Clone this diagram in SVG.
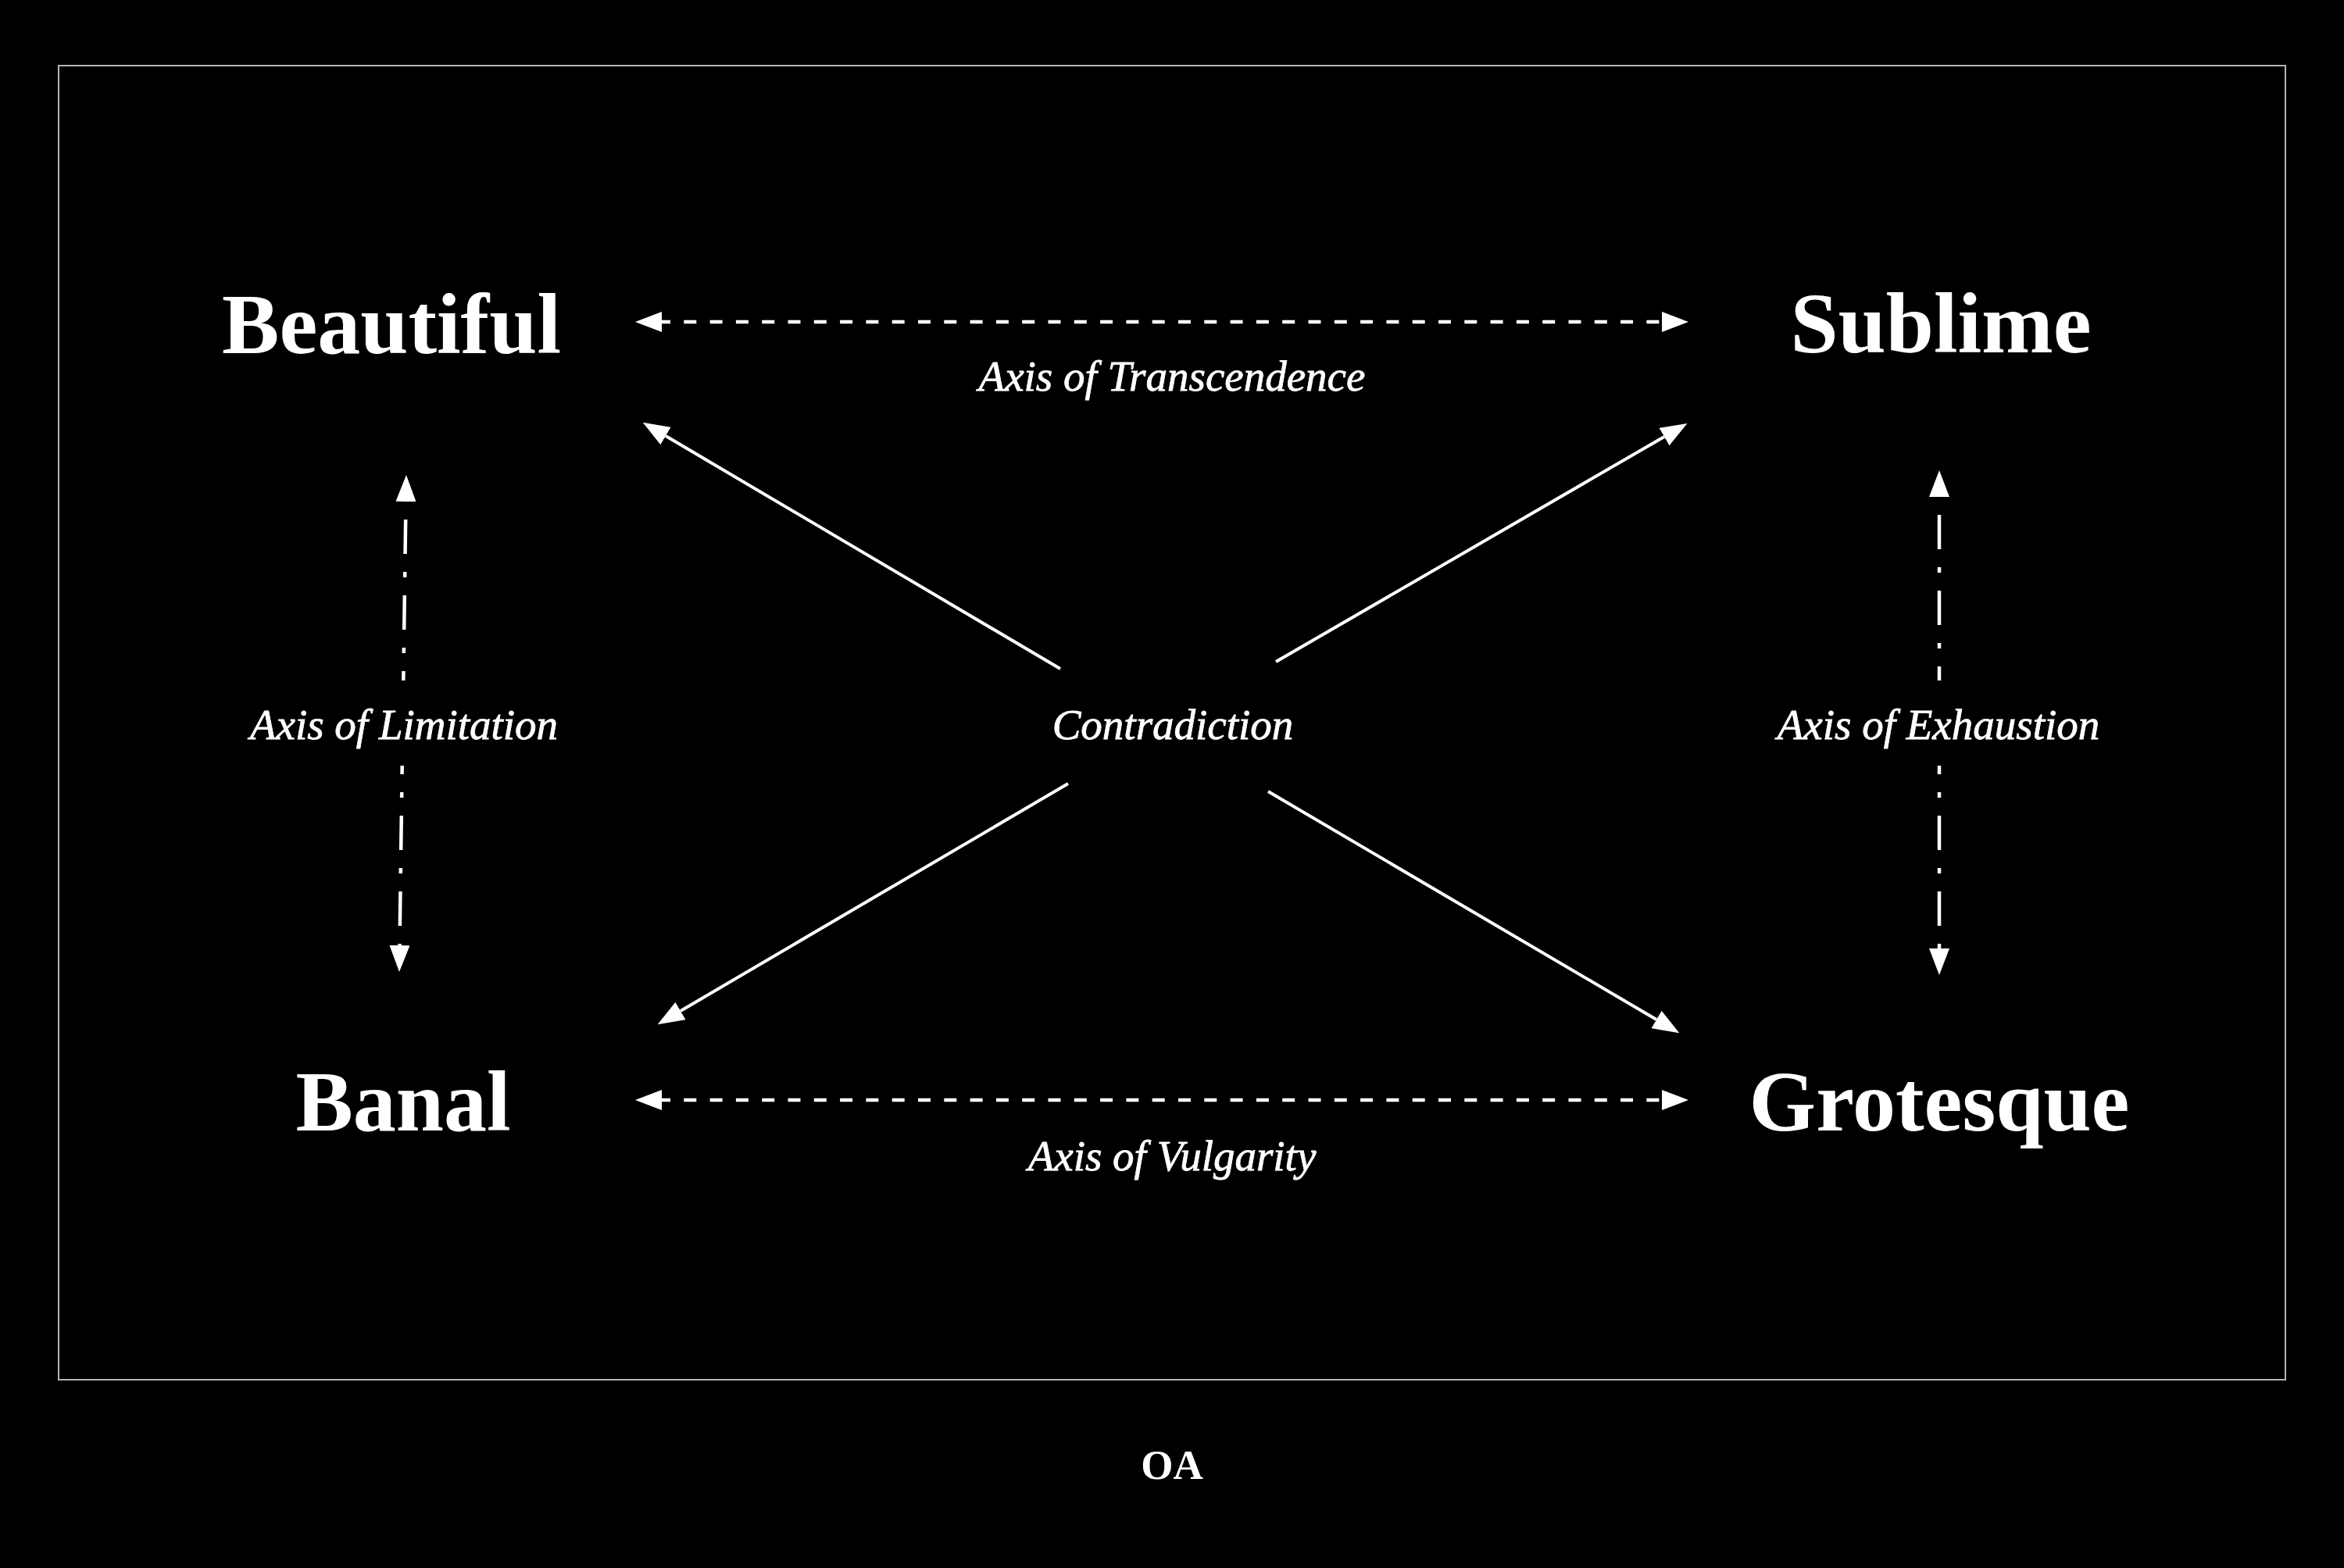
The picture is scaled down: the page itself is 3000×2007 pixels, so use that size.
<svg xmlns="http://www.w3.org/2000/svg" width="3000" height="2007" viewBox="0 0 3000 2007">
  <style>
    .node { font-family: "Liberation Serif", "Times New Roman", serif; font-weight: bold; font-size: 110px; fill: #ffffff; text-anchor: middle; }
    .label { font-family: "Liberation Serif", "Times New Roman", serif; font-style: italic; font-size: 55px; fill: #ffffff; stroke: #ffffff; stroke-width: 0.8; text-anchor: middle; }
    .sig { font-family: "Liberation Serif", "Times New Roman", serif; font-weight: bold; font-size: 53px; fill: #ffffff; text-anchor: middle; }
    .solid { stroke: #ffffff; stroke-width: 4; fill: none; }
    .dash { stroke: #ffffff; stroke-width: 4.5; fill: none; stroke-dasharray: 16 17.3; stroke-dashoffset: 5; }
    .dashdot { stroke: #ffffff; stroke-width: 4.5; fill: none; stroke-dasharray: 44 23 7 23; }
  </style>
  <defs>
    <marker id="arrow" viewBox="0 0 34 26" refX="0" refY="13" markerWidth="34" markerHeight="26" markerUnits="userSpaceOnUse" orient="auto-start-reverse">
      <path d="M0,0 L34,13 L0,26 Z" fill="#ffffff"/>
    </marker>
  </defs>
  <rect x="0" y="0" width="3000" height="2007" fill="#000000"/>
  <rect id="frame" x="75" y="84" width="2850" height="1682" fill="none" stroke="#b4b4b4" stroke-width="2"/>

  <g id="connectors">
    <line class="dash" x1="847" y1="412" x2="2127" y2="412" marker-start="url(#arrow)" marker-end="url(#arrow)"/>
    <line class="dash" x1="847" y1="1408" x2="2127" y2="1408" marker-start="url(#arrow)" marker-end="url(#arrow)"/>
    <line class="dashdot" x1="519.5" y1="642" x2="516.3" y2="871" stroke-dashoffset="74" marker-start="url(#arrow)"/>
    <line class="dashdot" x1="514.7" y1="980" x2="511.5" y2="1210" stroke-dashoffset="33" marker-end="url(#arrow)"/>
    <line class="dashdot" x1="2482" y1="636" x2="2482" y2="871" stroke-dashoffset="74" marker-start="url(#arrow)"/>
    <line class="dashdot" x1="2482" y1="980" x2="2482" y2="1214" stroke-dashoffset="33" marker-end="url(#arrow)"/>
    <line class="solid" x1="1357" y1="856" x2="852" y2="558" marker-end="url(#arrow)"/>
    <line class="solid" x1="1633" y1="847" x2="2130" y2="559" marker-end="url(#arrow)"/>
    <line class="solid" x1="1367" y1="1003" x2="871" y2="1294" marker-end="url(#arrow)"/>
    <line class="solid" x1="1623" y1="1013" x2="2120" y2="1305" marker-end="url(#arrow)"/>
  </g>

  <g id="beautiful"><text class="node" x="501" y="452">Beautiful</text></g>
  <g id="sublime"><text class="node" x="2484" y="451">Sublime</text></g>
  <g id="banal"><text class="node" x="516" y="1447">Banal</text></g>
  <g id="grotesque"><text class="node" x="2482" y="1447">Grotesque</text></g>
  <g id="contradiction"><text class="label" x="1501" y="946">Contradiction</text></g>

  <g id="axis-labels">
    <text class="label" x="1500" y="500">Axis of Transcendence</text>
    <text class="label" x="1500" y="1498">Axis of Vulgarity</text>
    <text class="label" x="517" y="946">Axis of Limitation</text>
    <text class="label" x="2481" y="946">Axis of Exhaustion</text>
  </g>

  <g id="signature"><text class="sig" x="1500" y="1893">OA</text></g>
</svg>
